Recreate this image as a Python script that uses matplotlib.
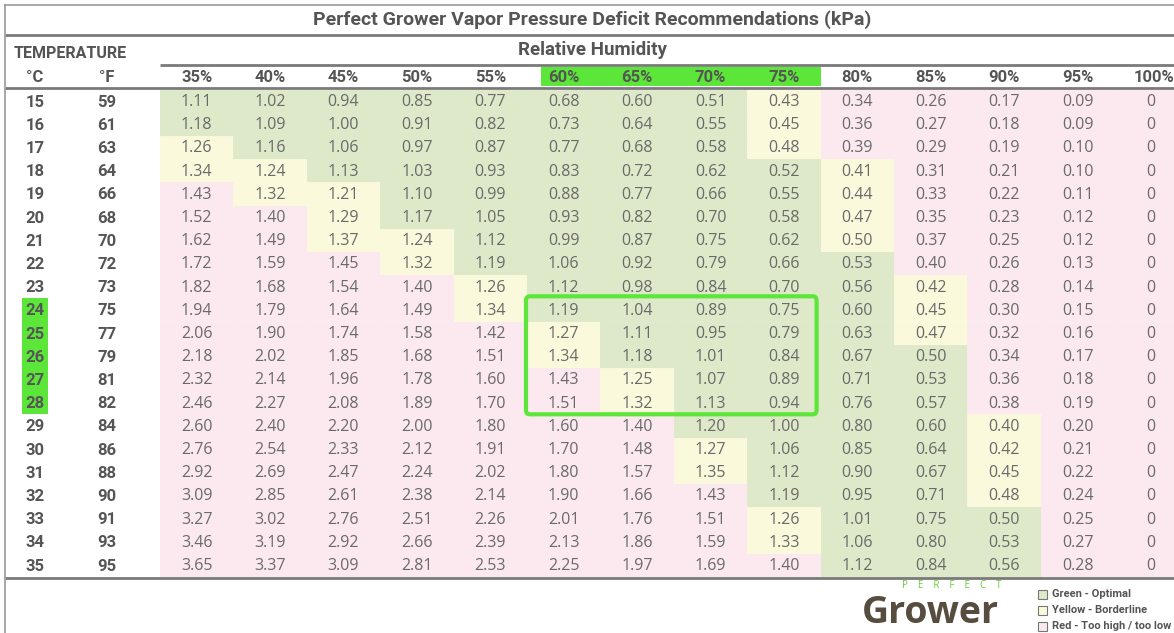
import matplotlib.pyplot as plt
from matplotlib.patches import Rectangle, FancyBboxPatch

# Data
temps_c = [15, 16, 17, 18, 19, 20, 21, 22, 23, 24, 25, 26, 27, 28, 29, 30, 31, 32, 33, 34, 35]
temps_f = [59, 61, 63, 64, 66, 68, 70, 72, 73, 75, 77, 79, 81, 82, 84, 86, 88, 90, 91, 93, 95]
humidity = ['35%', '40%', '45%', '50%', '55%', '60%', '65%', '70%', '75%',
            '80%', '85%', '90%', '95%', '100%']
vpd = [
    [1.11, 1.02, 0.94, 0.85, 0.77, 0.68, 0.60, 0.51, 0.43, 0.34, 0.26, 0.17, 0.09, 0],
    [1.18, 1.09, 1.00, 0.91, 0.82, 0.73, 0.64, 0.55, 0.45, 0.36, 0.27, 0.18, 0.09, 0],
    [1.26, 1.16, 1.06, 0.97, 0.87, 0.77, 0.68, 0.58, 0.48, 0.39, 0.29, 0.19, 0.10, 0],
    [1.34, 1.24, 1.13, 1.03, 0.93, 0.83, 0.72, 0.62, 0.52, 0.41, 0.31, 0.21, 0.10, 0],
    [1.43, 1.32, 1.21, 1.10, 0.99, 0.88, 0.77, 0.66, 0.55, 0.44, 0.33, 0.22, 0.11, 0],
    [1.52, 1.40, 1.29, 1.17, 1.05, 0.93, 0.82, 0.70, 0.58, 0.47, 0.35, 0.23, 0.12, 0],
    [1.62, 1.49, 1.37, 1.24, 1.12, 0.99, 0.87, 0.75, 0.62, 0.50, 0.37, 0.25, 0.12, 0],
    [1.72, 1.59, 1.45, 1.32, 1.19, 1.06, 0.92, 0.79, 0.66, 0.53, 0.40, 0.26, 0.13, 0],
    [1.82, 1.68, 1.54, 1.40, 1.26, 1.12, 0.98, 0.84, 0.70, 0.56, 0.42, 0.28, 0.14, 0],
    [1.94, 1.79, 1.64, 1.49, 1.34, 1.19, 1.04, 0.89, 0.75, 0.60, 0.45, 0.30, 0.15, 0],
    [2.06, 1.90, 1.74, 1.58, 1.42, 1.27, 1.11, 0.95, 0.79, 0.63, 0.47, 0.32, 0.16, 0],
    [2.18, 2.02, 1.85, 1.68, 1.51, 1.34, 1.18, 1.01, 0.84, 0.67, 0.50, 0.34, 0.17, 0],
    [2.32, 2.14, 1.96, 1.78, 1.60, 1.43, 1.25, 1.07, 0.89, 0.71, 0.53, 0.36, 0.18, 0],
    [2.46, 2.27, 2.08, 1.89, 1.70, 1.51, 1.32, 1.13, 0.94, 0.76, 0.57, 0.38, 0.19, 0],
    [2.60, 2.40, 2.20, 2.00, 1.80, 1.60, 1.40, 1.20, 1.00, 0.80, 0.60, 0.40, 0.20, 0],
    [2.76, 2.54, 2.33, 2.12, 1.91, 1.70, 1.48, 1.27, 1.06, 0.85, 0.64, 0.42, 0.21, 0],
    [2.92, 2.69, 2.47, 2.24, 2.02, 1.80, 1.57, 1.35, 1.12, 0.90, 0.67, 0.45, 0.22, 0],
    [3.09, 2.85, 2.61, 2.38, 2.14, 1.90, 1.66, 1.43, 1.19, 0.95, 0.71, 0.48, 0.24, 0],
    [3.27, 3.02, 2.76, 2.51, 2.26, 2.01, 1.76, 1.51, 1.26, 1.01, 0.75, 0.50, 0.25, 0],
    [3.46, 3.19, 2.92, 2.66, 2.39, 2.13, 1.86, 1.59, 1.33, 1.06, 0.80, 0.53, 0.27, 0],
    [3.65, 3.37, 3.09, 2.81, 2.53, 2.25, 1.97, 1.69, 1.40, 1.12, 0.84, 0.56, 0.28, 0],
]
# G = optimal, Y = borderline, R = too high / too low
zones = [
    'GGGGGGGGYRRRRR', 'GGGGGGGGYRRRRR', 'YGGGGGGGYRRRRR', 'YYGGGGGGGYRRRR',
    'RYYGGGGGGYRRRR', 'RRYGGGGGGYRRRR', 'RRYYGGGGGYRRRR', 'RRRYGGGGGGRRRR',
    'RRRRYGGGGGYRRR', 'RRRRYGGGGGYRRR', 'RRRRRYGGGGYRRR', 'RRRRRYGGGGGRRR',
    'RRRRRRYGGGGRRR', 'RRRRRRYGGGGRRR', 'RRRRRRRGGGGYRR', 'RRRRRRRYGGGYRR',
    'RRRRRRRYGGGYRR', 'RRRRRRRRGGGYRR', 'RRRRRRRRYGGGRR', 'RRRRRRRRYGGGRR',
    'RRRRRRRRRGGGRR',
]
best_rh = ['60%', '65%', '70%', '75%']
best_c = [24, 25, 26, 27, 28]
legend_labels = ['Green - Optimal', 'Yellow - Borderline', 'Red - Too high / too low']

zone_colors = {'G': '#dde9c9', 'Y': '#fbf9dc', 'R': '#fbe9ef'}
bright = '#5de63a'
txt = '#6a6a6a'
head = '#555555'
cond = ['Roboto', 'DejaVu Sans']
body = ['Open Sans', 'DejaVu Sans']

fig = plt.figure(figsize=(11.74, 6.33), dpi=100)
ax = fig.add_axes([0, 0, 1, 1])
ax.set_xlim(0, 1174)
ax.set_ylim(633, 0)
ax.axis('off')

x0, cw = 160, 73.4
y0, rh = 89.5, 23.2
xc, xf = 35, 107

def col_x(j):
    return x0 + j * cw

def row_y(i):
    return y0 + i * rh

# bright marker behind optimal temperatures
i0 = temps_c.index(best_c[0])
ax.add_patch(Rectangle((22, row_y(i0)), 26, rh * len(best_c), facecolor=bright, edgecolor='none'))

# cells
for i, row in enumerate(vpd):
    for j, v in enumerate(row):
        c = zone_colors[zones[i][j]]
        ax.add_patch(Rectangle((col_x(j), row_y(i)), cw, rh, facecolor=c, edgecolor=c, lw=0.6))
        s = '0' if v == 0 else f'{v:.2f}'
        ax.text(col_x(j) + cw / 2, row_y(i) + rh / 2 + 1, s, ha='center', va='center',
                fontsize=11.5, color=txt, family=body)
    ax.text(xc, row_y(i) + rh / 2 + 1, str(temps_c[i]), ha='center', va='center',
            fontsize=12, color=head, weight='bold', family=cond)
    ax.text(xf, row_y(i) + rh / 2 + 1, str(temps_f[i]), ha='center', va='center',
            fontsize=12, color=head, weight='bold', family=cond)

# column headers
j0 = humidity.index(best_rh[0])
ax.add_patch(Rectangle((col_x(j0) + 14, 67), cw * len(best_rh) - 14, 19,
                       facecolor=bright, edgecolor='none'))
for j, h in enumerate(humidity):
    xx = col_x(j) + cw / 2 if j < len(humidity) - 1 else 1174
    ax.text(xx, 77, h, ha='center' if j < len(humidity) - 1 else 'right', va='center',
            fontsize=12, color=head, weight='bold', family=cond)
ax.text(xc, 77, '°C', ha='center', va='center', fontsize=12, color=head,
        weight='bold', family=cond)
ax.text(xf, 77, '°F', ha='center', va='center', fontsize=12, color=head,
        weight='bold', family=cond)

# optimal box
ax.add_patch(FancyBboxPatch((col_x(j0) - 1, row_y(i0) - 2), cw * len(best_rh) - 3,
                            rh * len(best_c) + 2, boxstyle='round,pad=0,rounding_size=4',
                            facecolor='none', edgecolor=bright, lw=3, zorder=5))

# titles and rules
ax.text(592, 20, 'Perfect Grower Vapor Pressure Deficit Recommendations (kPa)',
        ha='center', va='center', fontsize=14, color=head, weight='bold', family=cond)
ax.text(70, 53, 'TEMPERATURE', ha='center', va='center', fontsize=11.5, color=head,
        weight='bold', family=cond)
ax.text(592, 50, 'Relative Humidity', ha='center', va='center', fontsize=13.5,
        color=head, weight='bold', family=cond)

line_kw = dict(color='#7a7a7a', lw=2, solid_capstyle='butt')
ax.plot([5, 1174], [5, 5], color='#999999', lw=1.2)
ax.plot([5, 1174], [35, 35], **line_kw)
ax.plot([160, 1174], [65, 65], **line_kw)
ax.plot([5, 1174], [88, 88], **line_kw)
ax.plot([5, 1174], [578, 578], **line_kw)
ax.plot([5, 5], [5, 633], color='#999999', lw=1.2)

# logo
ax.text(930, 613, 'Grower', ha='center', va='center', fontsize=27, color='#574d3f',
        weight='bold', family=body)
ax.text(952, 586, 'P    E    R    F    E    C    T', ha='center', va='center', fontsize=7,
        color='#6cc83a', family=body)

# legend
for k, (lab, z) in enumerate(zip(legend_labels, 'GYR')):
    yy = 594 + k * 16
    ax.add_patch(Rectangle((1038, yy - 4.5), 9, 9, facecolor=zone_colors[z],
                           edgecolor='#777777', lw=0.8))
    ax.text(1052, yy, lab, ha='left', va='center', fontsize=8, color=head,
            weight='bold', family=cond)

fig.savefig('out.png', dpi=100)
